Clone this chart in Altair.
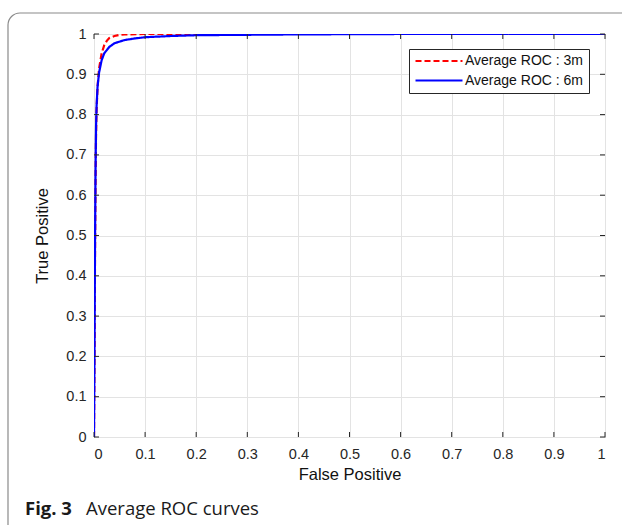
import altair as alt
import pandas as pd

# ---- data ----
fpr_3m = [0, 0.001, 0.002, 0.003, 0.004, 0.005, 0.007, 0.010, 0.015, 0.020, 0.025, 0.030, 0.040, 0.050, 0.060, 0.100, 0.200, 0.500, 1.0]
tpr_3m = [0, 0.20, 0.45, 0.63, 0.75, 0.81, 0.87, 0.915, 0.952, 0.972, 0.983, 0.990, 0.995, 0.998, 0.999, 1.0, 1.0, 1.0, 1.0]

fpr_6m = [0, 0.001, 0.002, 0.003, 0.004, 0.005, 0.007, 0.010, 0.015, 0.020, 0.030, 0.040, 0.060, 0.080, 0.100, 0.150, 0.200, 0.300, 0.400, 0.600, 0.800, 1.0]
tpr_6m = [0, 0.22, 0.48, 0.66, 0.77, 0.82, 0.87, 0.905, 0.935, 0.952, 0.968, 0.977, 0.985, 0.989, 0.992, 0.995, 0.997, 0.998, 0.999, 1.0, 1.0, 1.0]

series_names = ["Average ROC : 3m", "Average ROC : 6m"]
series_colors = ["#ff0000", "#0000ff"]
tick_values = [0, 0.1, 0.2, 0.3, 0.4, 0.5, 0.6, 0.7, 0.8, 0.9, 1.0]
caption_bold = "Fig. 3"
caption_text = "Average ROC curves"

rows = []
for i, (f, t) in enumerate(zip(fpr_3m, tpr_3m)):
    rows.append({"series": series_names[0], "fpr": f, "tpr": t, "order": i})
for i, (f, t) in enumerate(zip(fpr_6m, tpr_6m)):
    rows.append({"series": series_names[1], "fpr": f, "tpr": t, "order": i})
df = pd.DataFrame(rows)
ticks_df = pd.DataFrame({"v": tick_values})

W, H = 511, 403
FONT = "Liberation Sans"
DARK = "#262626"

xs = alt.Scale(domain=[0, 1], nice=False)
ys = alt.Scale(domain=[0, 1], nice=False)

frame = alt.Chart(ticks_df).mark_rect(
    fill=None, stroke="#8a8a8a", strokeWidth=1.2, cornerRadius=12, clip=False
).encode(
    x=alt.value(-86), x2=alt.value(600), y=alt.value(-21), y2=alt.value(520)
).transform_filter("datum.v == 0")

# long horizontal stroke symbol: path spans 8 units, size chosen so it is ~47px long
leg = dict(orient="none", legendX=315, legendY=15, title=None,
           symbolType="M-4,0H4", symbolSize=138, symbolStrokeWidth=2,
           symbolOffset=18, symbolFillColor="transparent",
           labelFontSize=14, labelFont=FONT, labelColor="#111",
           strokeColor=DARK, fillColor="white", padding=5,
           labelOffset=19, rowPadding=5.5)

lines = alt.Chart(df).mark_line(strokeWidth=2.2, clip=True).encode(
    x=alt.X("fpr:Q", scale=xs,
            axis=alt.Axis(values=tick_values, format=".1~f", title="False Positive",
                          grid=True, gridColor="#e3e3e3", tickSize=0, domain=False,
                          labelPadding=10, labelFontSize=14.5, labelFont=FONT, labelColor=DARK,
                          titleFontSize=16.5, titleFont=FONT, titleFontWeight="normal",
                          titleColor="#111", titlePadding=6)),
    y=alt.Y("tpr:Q", scale=ys,
            axis=alt.Axis(values=tick_values, format=".1~f", title="True Positive",
                          grid=True, gridColor="#e3e3e3", tickSize=0, domain=False,
                          labelPadding=8, labelFontSize=14.5, labelFont=FONT, labelColor=DARK,
                          titleFontSize=16.5, titleFont=FONT, titleFontWeight="normal",
                          titleColor="#111", titlePadding=15)),
    color=alt.Color("series:N", scale=alt.Scale(domain=series_names, range=series_colors),
                    legend=alt.Legend(**leg)),
    strokeDash=alt.StrokeDash("series:N",
                              scale=alt.Scale(domain=series_names, range=[[6, 3], [1, 0]]),
                              legend=alt.Legend(**leg)),
    order="order:Q",
)

tick_len = 5
xt_bottom = alt.Chart(ticks_df).mark_rule(color=DARK, strokeWidth=1).encode(
    x=alt.X("v:Q", scale=xs), y=alt.value(H), y2=alt.value(H - tick_len))
xt_top = alt.Chart(ticks_df).mark_rule(color=DARK, strokeWidth=1).encode(
    x=alt.X("v:Q", scale=xs), y=alt.value(0), y2=alt.value(tick_len))
yt_left = alt.Chart(ticks_df).mark_rule(color=DARK, strokeWidth=1).encode(
    y=alt.Y("v:Q", scale=ys), x=alt.value(0), x2=alt.value(tick_len))
yt_right = alt.Chart(ticks_df).mark_rule(color=DARK, strokeWidth=1).encode(
    y=alt.Y("v:Q", scale=ys), x=alt.value(W), x2=alt.value(W - tick_len))

cap_df = pd.DataFrame({"a": [caption_bold], "b": [caption_text]})
cap1 = alt.Chart(cap_df).mark_text(
    align="left", baseline="alphabetic", font="Open Sans", fontWeight="bold",
    fontSize=18.5, color="#1a1a1a", clip=False
).encode(text="a:N", x=alt.value(-69), y=alt.value(481))
cap2 = alt.Chart(cap_df).mark_text(
    align="left", baseline="alphabetic", font="Open Sans", fontWeight="normal",
    fontSize=18.5, color="#1a1a1a", clip=False
).encode(text="b:N", x=alt.value(-8), y=alt.value(481))

chart = alt.layer(frame, lines, xt_bottom, xt_top, yt_left, yt_right, cap1, cap2).properties(
    width=W, height=H,
    autosize=alt.AutoSizeParams(type="none"),
    padding={"left": 94, "top": 34, "right": 17, "bottom": 88},
    background="white",
).configure_view(stroke=DARK, strokeWidth=1)

chart.save("out.html", embed_options={"renderer": "svg", "actions": False})
